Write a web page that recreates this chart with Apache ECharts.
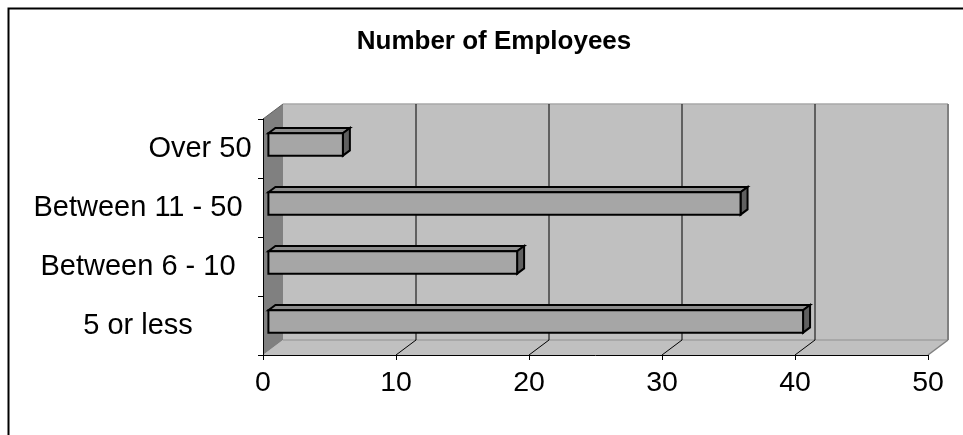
<!DOCTYPE html>
<html>
<head>
<meta charset="utf-8">
<script src="https://cdn.jsdelivr.net/npm/echarts@6/dist/echarts.min.js"></script>
<style>
  html, body { margin: 0; padding: 0; background: #ffffff; }
  #chart { width: 963px; height: 435px; }
</style>
</head>
<body>
<div id="chart"></div>
<script>
// ---- data ----
const titleText = 'Number of Employees';
const categories = ['5 or less', 'Between 6 - 10', 'Between 11 - 50', 'Over 50'];
const employees = [40.2, 18.7, 35.5, 5.6];
const xTicks = [0, 10, 20, 30, 40, 50];

// ---- style / layout constants ----
const FONT = "'Liberation Sans', Arial, sans-serif";
const DX = 20, DY = -15;        // depth of the 3D box (pixels)
const F1 = 0.27, F2 = 0.62;     // bar front/back position in depth
const BAR_FRAC = 0.38;          // bar thickness relative to band

const chart = echarts.init(document.getElementById('chart'), null, { renderer: 'canvas' });

function renderWalls(params, api) {
  const cs = params.coordSys;
  const x = cs.x, y = cs.y, w = cs.width, h = cs.height;
  const kids = [];
  // back wall
  kids.push({ type: 'rect', shape: { x: x + DX, y: y + DY, width: w, height: h },
    style: { fill: '#C0C0C0', stroke: null } });
  // floor
  kids.push({ type: 'polygon', shape: { points: [[x, y + h], [x + DX, y + h + DY], [x + w + DX, y + h + DY], [x + w, y + h]] },
    style: { fill: '#C0C0C0', stroke: null } });
  // left wall
  kids.push({ type: 'polygon', shape: { points: [[x, y], [x + DX, y + DY], [x + DX, y + h + DY], [x, y + h]] },
    style: { fill: '#808080', stroke: null } });
  // back wall edges
  kids.push({ type: 'line', shape: { x1: x + DX, y1: y + DY, x2: x + w + DX, y2: y + DY },
    style: { stroke: '#A8A8A8', lineWidth: 1.5 } });
  kids.push({ type: 'line', shape: { x1: x + DX, y1: y + h + DY, x2: x + w + DX, y2: y + h + DY },
    style: { stroke: '#A0A0A0', lineWidth: 1.5 } });
  kids.push({ type: 'line', shape: { x1: x + w + DX, y1: y + DY, x2: x + w + DX, y2: y + h + DY },
    style: { stroke: '#808080', lineWidth: 2 } });
  kids.push({ type: 'line', shape: { x1: x + w, y1: y + h, x2: x + w + DX, y2: y + h + DY },
    style: { stroke: '#808080', lineWidth: 1.5 } });
  kids.push({ type: 'line', shape: { x1: x, y1: y, x2: x + DX, y2: y + DY },
    style: { stroke: '#606060', lineWidth: 1 } });
  // gridlines on back wall + floor
  xTicks.forEach(function (t) {
    if (t === xTicks[0] || t === xTicks[xTicks.length - 1]) return;
    const X = api.coord([t, 0])[0];
    kids.push({ type: 'line', shape: { x1: X + DX, y1: y + DY, x2: X + DX, y2: y + h + DY },
      style: { stroke: '#000000', lineWidth: 1 } });
    kids.push({ type: 'line', shape: { x1: X, y1: y + h, x2: X + DX, y2: y + h + DY },
      style: { stroke: '#000000', lineWidth: 1 } });
  });
  return { type: 'group', children: kids };
}

function renderBar(params, api) {
  const v = api.value(0), c = api.value(1);
  const p0 = api.coord([0, c]);
  const p1 = api.coord([v, c]);
  const band = api.size([0, 1])[1];
  const hh = band * BAR_FRAC;
  const x0 = p0[0] + DX * F1, x1 = p1[0] + DX * F1;
  const yc = p0[1] + DY * F1;
  const yt = yc - hh / 2, yb = yc + hh / 2;
  const ox = DX * (F2 - F1), oy = DY * (F2 - F1);
  const st = { stroke: '#000000', lineWidth: 2, lineJoin: 'miter' };
  return {
    type: 'group',
    children: [
      { type: 'polygon', shape: { points: [[x0, yt], [x1, yt], [x1 + ox, yt + oy], [x0 + ox, yt + oy]] },
        style: Object.assign({ fill: '#8C8C8C' }, st) },
      { type: 'polygon', shape: { points: [[x1, yt], [x1 + ox, yt + oy], [x1 + ox, yb + oy], [x1, yb]] },
        style: Object.assign({ fill: '#606060' }, st) },
      { type: 'rect', shape: { x: x0, y: yt, width: x1 - x0, height: yb - yt },
        style: Object.assign({ fill: '#A6A6A6' }, st) }
    ]
  };
}

const option = {
  animation: false,
  backgroundColor: '#ffffff',
  title: {
    text: titleText,
    left: 489,
    top: 24,
    textAlign: 'center',
    textStyle: { fontFamily: FONT, fontSize: 26, fontWeight: 'bold', color: '#000000' }
  },
  graphic: [{
    type: 'rect', left: 6, top: 6, z: -10,
    shape: { width: 956, height: 440 },
    style: { fill: 'none', stroke: '#000000', lineWidth: 2 }
  }],
  grid: { left: 263, top: 119, width: 665, height: 236, containLabel: false },
  xAxis: {
    type: 'value', min: 0, max: 50, interval: 10, z: 10,
    axisLine: { show: true, lineStyle: { color: '#000000', width: 1 } },
    axisTick: { show: true, length: 5, lineStyle: { color: '#000000' } },
    splitLine: { show: false },
    axisLabel: { fontFamily: FONT, fontSize: 28.5, color: '#000000', margin: 14 }
  },
  yAxis: {
    type: 'category', data: categories, z: 10,
    axisLine: { show: true, lineStyle: { color: '#000000', width: 1 } },
    axisTick: { show: true, length: 5, lineStyle: { color: '#000000' } },
    splitLine: { show: false },
    axisLabel: {
      interval: 0, align: 'center', margin: 125,
      fontFamily: FONT, fontSize: 29, color: '#000000',
      formatter: function (val) {
        return val === 'Over 50' ? '{o|' + val + '}' : val;
      },
      rich: { o: { fontFamily: FONT, fontSize: 29, color: '#000000', padding: [0, 0, 0, 124] } }
    }
  },
  series: [
    { type: 'custom', name: 'walls', z: 1, silent: true,
      data: [[0, 0]], encode: { x: 0, y: 1 }, renderItem: renderWalls },
    { type: 'custom', name: 'Number of Employees', z: 3,
      data: employees.map(function (v, i) { return [v, i]; }),
      encode: { x: 0, y: 1 }, renderItem: renderBar }
  ]
};
chart.setOption(option);
</script>
</body>
</html>
